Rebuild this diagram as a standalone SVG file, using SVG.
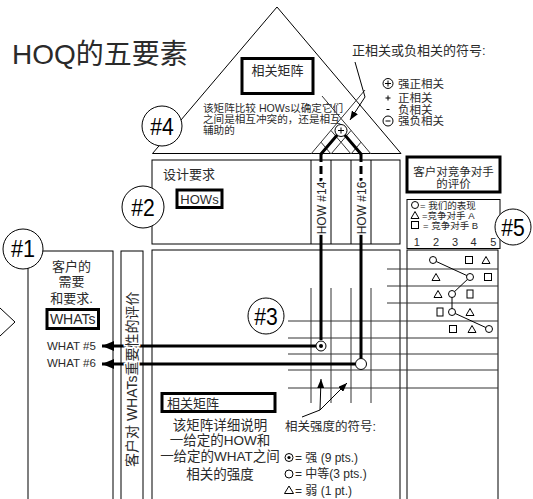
<svg xmlns="http://www.w3.org/2000/svg" width="533" height="499" viewBox="0 0 533 499">
<defs>
<style>
text { font-family: "Liberation Sans", "Noto Sans CJK SC", sans-serif; fill: #2a2a2a; }
.ln { stroke: #000; stroke-width: 1; fill: none; }
.gl { stroke: #333; stroke-width: 1; fill: none; }
.box { fill: #fff; stroke: #000; stroke-width: 1; }
.tbox { fill: #fff; stroke: #000; stroke-width: 3; }
.circ { fill: #fff; stroke: #000; stroke-width: 1; }
.num { font-size: 24px; fill: #000; text-anchor: middle; }
.thick { stroke: #000; stroke-width: 3; fill: none; }
.mid { text-anchor: middle; }
.halo { paint-order: stroke; stroke: #fff; stroke-width: 3; }
.sym { fill: #fff; stroke: #000; stroke-width: 1; }
</style>
<marker id="ah" markerUnits="userSpaceOnUse" markerWidth="12" markerHeight="10" refX="12" refY="5" orient="auto">
<path d="M0,0 L12,5 L0,10 Z" fill="#000"/>
</marker>
<marker id="sa" markerUnits="userSpaceOnUse" markerWidth="9" markerHeight="7" refX="9" refY="3.5" orient="auto">
<path d="M0,0 L9,3.5 L0,7 Z" fill="#000"/>
</marker>
<path id="tri" d="M0,-3.5 L4,3.5 L-4,3.5 Z" class="sym"/>
<rect id="sq" x="-3.5" y="-3.5" width="7" height="7" class="sym"/>
<rect id="sqt" x="-3" y="-4" width="6" height="8" class="sym"/>
<circle id="cir" r="3.5" class="sym"/>
</defs>
<rect width="533" height="499" fill="#fff"/>

<text x="12" y="64" font-size="28" fill="#111">HOQ的五要素</text>

<g id="roof">
<polygon points="152.5,153.5 277,7 401,153.5" class="ln"/>
<g class="gl">
<path d="M311,154 L365,90"/>
<path d="M371,154 L322,96"/>
<path d="M331,154 L351,130.5"/>
<path d="M351,154 L331,130.5"/>
<path d="M331,154 L321,142.2"/>
<path d="M351,154 L361,142.2"/>
</g>
<rect x="242" y="58.5" width="71" height="35" class="tbox"/>
<text x="277.5" y="75" font-size="13" class="mid">相关矩阵</text>
<text x="203" y="112" font-size="10.6">该矩阵比较 HOWs以确定它们</text>
<text x="203" y="122.5" font-size="10.6">之间是相互冲突的，还是相互</text>
<text x="203" y="133.5" font-size="10.6">辅助的</text>
</g>

<g id="corr-legend">
<text x="352" y="55" font-size="13">正相关或负相关的符号:</text>
<circle cx="388" cy="83.5" r="5" class="circ"/>
<path d="M385,83.5 H391 M388,80.5 V86.5" class="ln" stroke-width="1.3"/>
<text x="398" y="87.5" font-size="11.5">强正相关</text>
<path d="M385.5,98 H390.5 M388,95.5 V100.5" class="ln" stroke-width="1.6"/>
<text x="398" y="101.5" font-size="11.5">正相关</text>
<path d="M386.5,109.5 H389.5" class="ln" stroke-width="1.6"/>
<text x="398" y="113.5" font-size="11.5">负相关</text>
<circle cx="388" cy="121" r="5" class="circ"/>
<path d="M385.5,121 H390.5" class="ln" stroke-width="1.3"/>
<text x="398" y="125" font-size="11.5">强负相关</text>
<path d="M355,62 L365,97 L350,120" class="ln" marker-end="url(#sa)"/>
</g>

<g id="hows">
<rect x="152" y="160" width="248" height="84" class="box"/>
<path d="M311,160 V244 M331,160 V244 M351,160 V244 M371,160 V244" class="ln"/>
<text x="163" y="179" font-size="13">设计要求</text>
<rect x="177" y="190" width="45" height="17.5" class="tbox"/>
<text x="199.5" y="203.5" font-size="13" class="mid">HOWs</text>
</g>

<g id="comp-title">
<rect x="407" y="157" width="93" height="35" class="tbox"/>
<text x="453.5" y="175.5" font-size="11.5" class="mid">客户对竞争对手</text>
<text x="453.5" y="187.5" font-size="11.5" class="mid">的评价</text>
</g>

<g id="comp-legend">
<rect x="407" y="199.5" width="93" height="49" class="box"/>
<circle cx="415" cy="205" r="3.5" class="sym"/>
<text x="420" y="208.5" font-size="9.5">= 我们的表现</text>
<use href="#tri" x="415" y="215"/>
<text x="422" y="218.5" font-size="9.5">=竞争对手 A</text>
<use href="#sq" x="415" y="225"/>
<text x="423" y="228.5" font-size="9.5">= 竞争对手 B</text>
<g font-size="11">
<text x="416.7" y="246" class="mid">1</text>
<text x="436" y="246" class="mid">2</text>
<text x="455" y="246" class="mid">3</text>
<text x="473.5" y="246" class="mid">4</text>
<text x="493.3" y="246" class="mid">5</text>
</g>
</g>

<g id="whats">
<rect x="28" y="251" width="85" height="260" class="box"/>
<text x="71.5" y="271" font-size="13" class="mid">客户的</text>
<text x="71.5" y="285.5" font-size="13" class="mid">需要</text>
<text x="71.5" y="302.5" font-size="13" class="mid">和要求.</text>
<rect x="47" y="309.5" width="51.5" height="19" class="tbox"/>
<text x="72.7" y="324" font-size="14" class="mid">WHATs</text>
<text x="47" y="350" font-size="11.5">WHAT #5</text>
<text x="47" y="367" font-size="11.5">WHAT #6</text>
</g>
<path d="M0,308 L15,322 L0,336" class="ln"/>

<g id="importance">
<rect x="121" y="251" width="22" height="260" class="box"/>
</g>

<g id="matrix">
<rect x="152" y="250" width="248" height="260" class="box"/>
<rect x="162" y="393.5" width="113" height="18" class="tbox"/>
<text x="167" y="408" font-size="13">相关矩阵</text>
<g font-size="13.5">
<text x="220" y="429.5" class="mid">该矩阵详细说明</text>
<text x="220" y="445" class="mid">一给定的HOW和</text>
<text x="220" y="460.5" class="mid">一给定的WHAT之间</text>
<text x="220" y="478.5" class="mid">相关的强度</text>
</g>
<text x="285" y="431" font-size="12.5">相关强度的符号:</text>
<circle cx="289" cy="457.5" r="4" class="circ"/>
<circle cx="289" cy="457.5" r="1.6" fill="#000"/>
<text x="295" y="461.5" font-size="12">= 强 (9 pts.)</text>
<circle cx="289" cy="474" r="4" class="circ"/>
<text x="295" y="478" font-size="12">= 中等(3 pts.)</text>
<path d="M289,486 L293.5,493.5 L284.5,493.5 Z" class="sym"/>
<text x="295" y="495" font-size="12">= 弱 (1 pt.)</text>
</g>

<g id="comp-data">
<rect x="407" y="250" width="91" height="260" class="box"/>
</g>

<g id="connectors">
<g class="gl">
<path d="M288,321 H498 M288,338 H498 M288,354 H498 M288,370 H498 M288,388 H498"/>
<path d="M387,269 H498 M387,286 H498 M387,303 H498"/>
<path d="M311,288 V403 M331,288 V403 M351,288 V403 M371,288 V403"/>
</g>
<path d="M302,417 L320,410 L321,379" class="ln" marker-end="url(#sa)"/>
<path d="M320,410 L347,383" class="ln" marker-end="url(#sa)"/>
<polyline points="433,260 470,277 452,294 452,312 489,329" class="ln"/>
<path d="M321,154 L341,130.5 L361,154" class="thick"/>
<path d="M321,154 V186 M361,154 V186" class="thick" stroke-dasharray="8 4"/>
<path d="M321,232 V340 M361,232 V358.5" class="thick"/>
<path d="M316,346 H102" class="thick" marker-end="url(#ah)"/>
<path d="M355.5,364 H102" class="thick" marker-end="url(#ah)"/>
</g>

<g id="comp-symbols">
<use href="#cir" x="433" y="260"/><use href="#sq" x="469" y="260"/><use href="#tri" x="486" y="260"/>
<use href="#tri" x="436" y="277"/><use href="#cir" x="470" y="277"/><use href="#sq" x="488" y="277"/>
<use href="#tri" x="438" y="294"/><use href="#cir" x="452" y="294"/><use href="#sqt" x="470" y="294"/>
<use href="#sqt" x="440" y="312"/><use href="#cir" x="452" y="312"/><use href="#tri" x="470" y="312"/>
<use href="#sq" x="453" y="329"/><use href="#tri" x="472" y="329"/><use href="#cir" x="489" y="329"/>
</g>

<g id="strength-marks">
<circle cx="341" cy="130.5" r="6" class="circ"/>
<path d="M338,130.5 H344 M341,127.5 V133.5" class="ln" stroke-width="1.3"/>
<circle cx="321" cy="346" r="5" class="circ" stroke-width="1.3"/>
<circle cx="321" cy="346" r="2" fill="#000"/>
<circle cx="361" cy="364" r="5.5" class="circ" stroke-width="1.3"/>
</g>

<g id="rotated-labels">
<text transform="translate(325.5,208) rotate(-90)" font-size="12" fill="#000" class="mid halo">HOW #14</text>
<text transform="translate(365.5,208) rotate(-90)" font-size="12" fill="#000" class="mid halo">HOW #16</text>
<text transform="translate(137,467) rotate(-90)" font-size="14" class="halo">客户对 WHATs重要性的评价</text>
</g>

<g id="n1"><circle cx="23" cy="249" r="20" class="circ"/><text transform="translate(23,256.5) scale(0.9,1)" class="num" font-size="21">#1</text></g>
<g id="n2"><circle cx="143" cy="207" r="21" class="circ"/><text transform="translate(143,216) scale(0.88,1)" class="num">#2</text></g>
<g id="n3"><circle cx="266" cy="316" r="18" class="circ"/><text transform="translate(266,324.5) scale(0.88,1)" class="num">#3</text></g>
<g id="n4"><circle cx="162" cy="126" r="20" class="circ"/><text transform="translate(162,134.5) scale(0.88,1)" class="num">#4</text></g>
<g id="n5"><circle cx="513" cy="227" r="18" class="circ"/><text transform="translate(513,235.5) scale(0.88,1)" class="num">#5</text></g>
</svg>
